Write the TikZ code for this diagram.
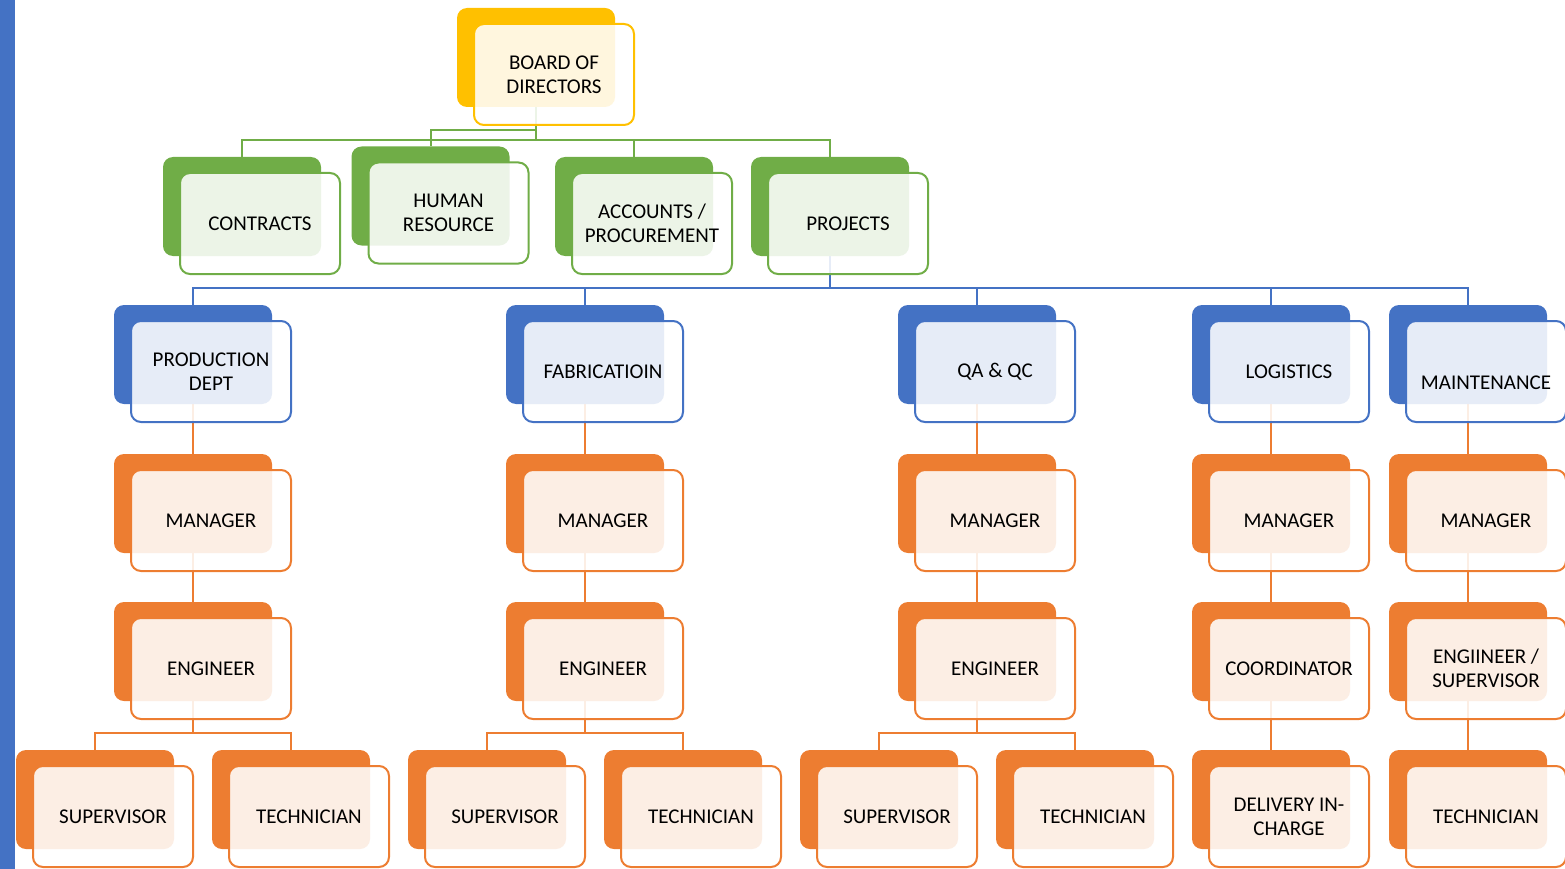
\documentclass[tikz,border=0pt]{standalone}
\usepackage{fontspec}
\setmainfont{Carlito}
\usetikzlibrary{backgrounds}

\definecolor{gold}{RGB}{255,192,0}
\definecolor{leaf}{RGB}{112,173,71}
\definecolor{sky}{RGB}{68,114,196}
\definecolor{rust}{RGB}{237,125,49}

\tikzset{
	backbox/.style={fill=#1, rounded corners=10, minimum width=158, minimum height=99, inner sep=0},
	frontbox/.style={draw=#1, line width=2, fill=white, fill opacity=0.87, text opacity=1, rounded corners=10, minimum width=160, minimum height=101, inner sep=0, align=center, font=\fontsize{21}{24}\selectfont},
	link/.style={draw=#1, line width=2},
}

% name, colour, centre of the back box, text
\newcommand{\orgunit}[5]{%
	\node[backbox=#2] (b#1) at (#3,#4) {};
	\node[frontbox=#2] (#1) at (#3+18,#4+17) {#5};
}

\begin{document}
\begin{tikzpicture}[x=1pt,y=-1pt]
	\useasboundingbox (0,0) rectangle (1565,869);
	%Shape: side bar
	\fill[sky] (0,0) rectangle (15,869);
	
	%Top
	\orgunit{board}{gold}{536}{57.5}{BOARD OF\\DIRECTORS}
	
	%Departments
	\orgunit{contracts}{leaf}{242}{206.5}{CONTRACTS}
	\orgunit{hr}{leaf}{430.5}{196}{HUMAN\\RESOURCE}
	\orgunit{accounts}{leaf}{634}{206.5}{ACCOUNTS /\\PROCUREMENT}
	\orgunit{projects}{leaf}{830}{206.5}{PROJECTS}
	
	%Project sections
	\orgunit{prod}{sky}{193}{354.5}{PRODUCTION\\DEPT}
	\orgunit{fab}{sky}{585}{354.5}{FABRICATIOIN}
	\orgunit{qaqc}{sky}{977}{354.5}{QA \& QC}
	\orgunit{logis}{sky}{1271}{354.5}{LOGISTICS}
	\orgunit{maint}{sky}{1468}{354.5}{\raisebox{-11pt}[\height][\depth]{MAINTENANCE}}
	
	%Managers
	\orgunit{mgrA}{rust}{193}{503.5}{MANAGER}
	\orgunit{mgrB}{rust}{585}{503.5}{MANAGER}
	\orgunit{mgrC}{rust}{977}{503.5}{MANAGER}
	\orgunit{mgrD}{rust}{1271}{503.5}{MANAGER}
	\orgunit{mgrE}{rust}{1468}{503.5}{MANAGER}
	
	%Engineers
	\orgunit{engA}{rust}{193}{651.5}{ENGINEER}
	\orgunit{engB}{rust}{585}{651.5}{ENGINEER}
	\orgunit{engC}{rust}{977}{651.5}{ENGINEER}
	\orgunit{coord}{rust}{1271}{651.5}{COORDINATOR}
	\orgunit{engE}{rust}{1468}{651.5}{ENGIINEER /\\SUPERVISOR}
	
	%Bottom row
	\orgunit{supA}{rust}{95}{799.5}{SUPERVISOR}
	\orgunit{techA}{rust}{291}{799.5}{TECHNICIAN}
	\orgunit{supB}{rust}{487}{799.5}{SUPERVISOR}
	\orgunit{techB}{rust}{683}{799.5}{TECHNICIAN}
	\orgunit{supC}{rust}{879}{799.5}{SUPERVISOR}
	\orgunit{techC}{rust}{1075}{799.5}{TECHNICIAN}
	\orgunit{deliv}{rust}{1271}{799.5}{DELIVERY IN-\\CHARGE}
	\orgunit{techE}{rust}{1468}{799.5}{TECHNICIAN}
	
	\begin{scope}[on background layer]
		%Lines board
		\draw[link=leaf] (bboard.south) -- ++(0,23) -| (bhr.north);
		\foreach \d in {contracts,accounts,projects}
			\draw[link=leaf] (bboard.south) -- ++(0,33) -| (b\d.north);
		%Lines projects
		\foreach \d in {prod,fab,qaqc,logis,maint}
			\draw[link=sky] (bprojects.south) -- ++(0,32) -| (b\d.north);
		%Lines columns
		\foreach \a/\b/\c in {prod/mgrA/engA,fab/mgrB/engB,qaqc/mgrC/engC,logis/mgrD/coord,maint/mgrE/engE}
			\draw[link=rust] (b\a.south) -- (b\b.north) (b\b.south) -- (b\c.north);
		\foreach \e/\s/\t in {engA/supA/techA,engB/supB/techB,engC/supC/techC}
			\draw[link=rust] (b\s.north) |- ([yshift=-32]b\e.south) -| (b\t.north)
				([yshift=-32]b\e.south) -- (b\e.south);
		\draw[link=rust] (bcoord.south) -- (bdeliv.north);
		\draw[link=rust] (bengE.south) -- (btechE.north);
	\end{scope}
\end{tikzpicture}
\end{document}
